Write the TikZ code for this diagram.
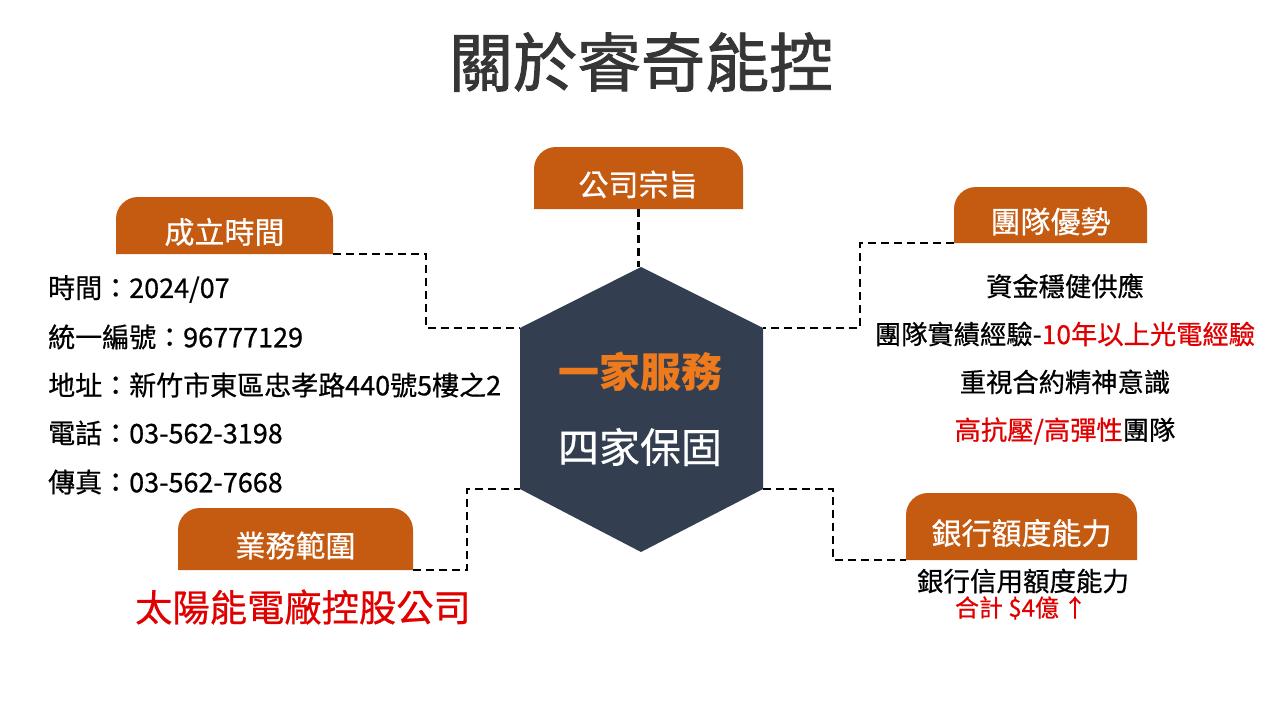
\documentclass[tikz,border=0pt]{standalone}
\usepackage{fontspec}
\setmainfont{Noto Sans CJK TC}
\newfontfamily\medf{Noto Sans CJK TC}[FakeBold=0.6]
\newfontfamily\titlef{Noto Sans CJK TC}[FakeBold=1.4]
\definecolor{tabc}{HTML}{C55A11}
\definecolor{hexc}{HTML}{333F50}
\definecolor{orc}{HTML}{EE7A1E}
\definecolor{redc}{HTML}{E00000}
\definecolor{titlec}{HTML}{363636}
\tikzset{
  tabshape/.style={inner sep=0pt, outer sep=0pt},
  tabfill/.style={fill=tabc},
  tabtext/.style={text=white, inner sep=0pt, font=\medf\fontsize{30}{33}\selectfont},
  dashline/.style={draw=black, line width=2.8pt, dash pattern=on 8pt off 5pt},
  listtext/.style={anchor=west, inner sep=0pt, font=\medf\fontsize{27}{30}\selectfont},
  righttext/.style={inner sep=0pt, font=\medf\fontsize{26.3}{30}\selectfont},
}
\newcommand{\tabbox}[6]{%
  \node[tabshape, minimum width=#4pt, minimum height=#5pt] (#1) at (#2,#3) {};
  \fill[tabfill] (#1.south west) [rounded corners=22pt] -- (#1.north west) -- (#1.north east) [sharp corners] -- (#1.south east) -- cycle;
  \node[tabtext] (#1-l) at ([yshift=-6.5pt]#1.center) {#6};
}
\begin{document}
\begin{tikzpicture}[x=1pt,y=-1pt]
\useasboundingbox[fill=white] (0,0) rectangle (1280,720);

% title
\node[text=titlec, font=\titlef\fontsize{64}{70}\selectfont, inner sep=0pt] (title) at (641,62) {關於睿奇能控};

% hexagon
\coordinate (hT) at (641,267);
\coordinate (hUL) at (520,328);
\coordinate (hLL) at (520,489);
\coordinate (hB) at (641,552);
\coordinate (hLR) at (763,489);
\coordinate (hUR) at (763,328);
\fill[hexc] (hT) -- (hUR) -- (hLR) -- (hB) -- (hLL) -- (hUL) -- cycle;
\node[text=orc, font=\fontsize{41}{44}\selectfont\bfseries, inner sep=0pt] (h1) at (640,372) {一家服務};
\node[text=white, font=\medf\fontsize{41}{44}\selectfont, inner sep=0pt] (h2) at (640,447) {四家保固};

% tabs
\tabbox{t1}{224.5}{225.5}{217}{57}{成立時間}
\tabbox{t2}{638.5}{178}{209}{62}{公司宗旨}
\tabbox{t3}{1050.5}{215}{193}{56}{團隊優勢}
\tabbox{t4}{295.5}{539}{235}{62}{業務範圍}
\tabbox{t5}{1021.5}{526.5}{231}{67}{銀行額度能力}

% connector bends
\coordinate (k1) at (426,328);
\coordinate (k3) at (860,328);
\coordinate (k4) at (467,489);
\coordinate (k5) at (833,560);

\draw[dashline] (t1.south east) -| (k1) -- (hUL);
\draw[dashline] (t2.south) -- (t2.south |- hT);
\draw[dashline] (t3.south west) -| (k3) -- (hUR);
\draw[dashline] (t4.south east) -| (k4) -- (hLL);
\draw[dashline] (hLR) -| (k5) -- (t5.south west);

% left list
\node[listtext] (l1) at (48,289) {時間：2024/07};
\node[listtext] (l2) at (48,337) {統一編號：96777129};
\node[listtext] (l3) at (48,385) {地址：新竹市東區忠孝路440號5樓之2};
\node[listtext] (l4) at (48,433) {電話：03-562-3198};
\node[listtext] (l5) at (48,482) {傳真：03-562-7668};

% right list
\node[righttext] (r1) at (1065,286) {資金穩健供應};
\node[righttext] (r2) at (1065,334) {團隊實績經驗-\textcolor{redc}{10年以上光電經驗}};
\node[righttext] (r3) at (1065,382) {重視合約精神意識};
\node[righttext] (r4) at (1065,431) {\textcolor{redc}{高抗壓/高彈性}團隊};

% bottom left
\node[text=redc, inner sep=0pt, font=\medf\fontsize{37.3}{40}\selectfont] (bl) at (303,607) {太陽能電廠控股公司};

% bottom right
\node[inner sep=0pt, font=\medf\fontsize{26.5}{30}\selectfont] (br1) at (1023,581) {銀行信用額度能力};
\node[text=redc, inner sep=0pt, font=\medf\fontsize{24}{28}\selectfont] (br2) at (1021,608) {合計 \$4億\,↑};
\end{tikzpicture}
\end{document}
